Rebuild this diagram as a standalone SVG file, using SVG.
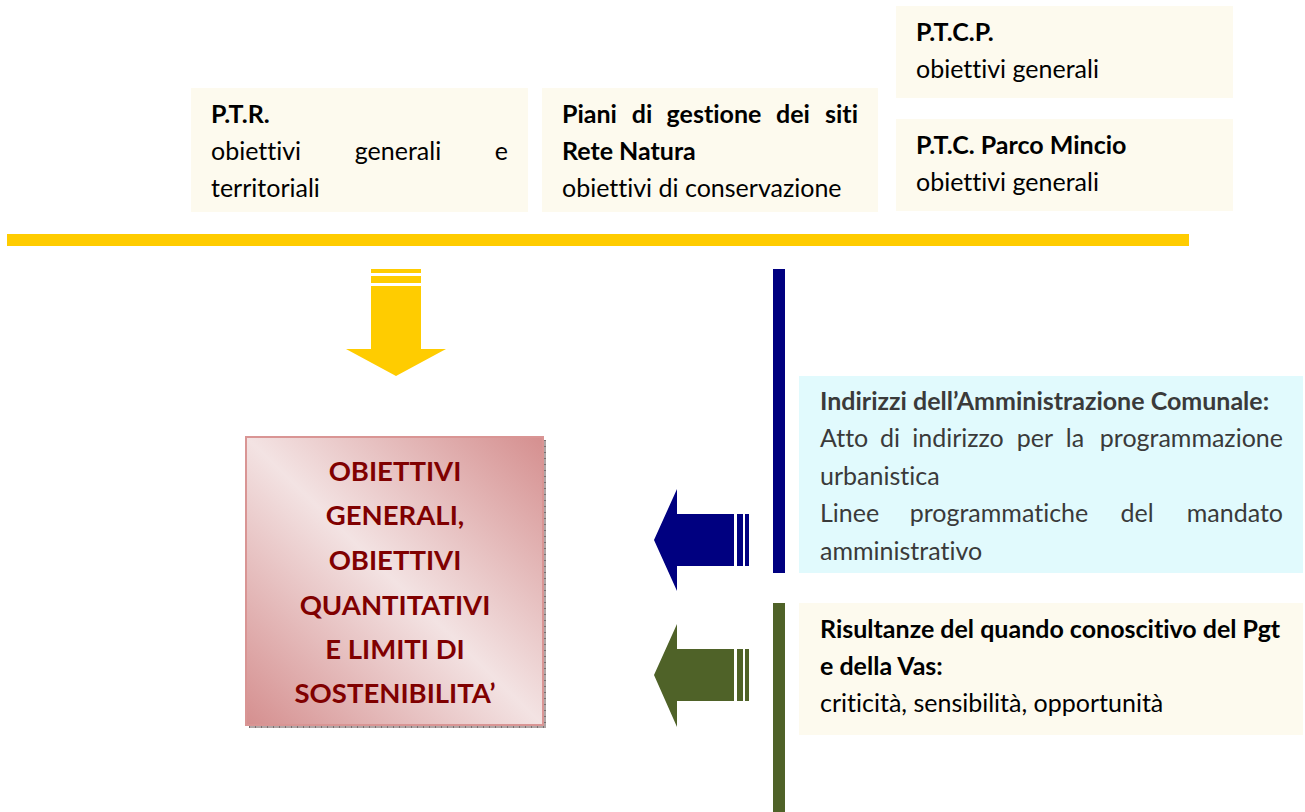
<svg xmlns="http://www.w3.org/2000/svg" width="1305" height="812" viewBox="0 0 1305 812">
  <defs>
    <style>
      .cream{fill:#FDFAEE}
      .cyan{fill:#E1FAFD}
      .t{font-family:Lato,"Liberation Sans",sans-serif;font-size:25px;fill:#000;font-variant-ligatures:none}
      .g{fill:#3A3A3A}
      .b{font-weight:bold}
      .m{text-anchor:middle}
      .e{text-anchor:end}
      .pk{font-family:Lato,"Liberation Sans",sans-serif;font-size:27.5px;font-weight:bold;fill:#800000;text-anchor:middle;font-variant-ligatures:none}
      .yellow{fill:#FFCC00}
      .blue{fill:#000080}
      .green{fill:#4F6228}
    </style>
    <linearGradient id="pinkGrad" x1="0" y1="1" x2="1" y2="0">
      <stop offset="0" stop-color="#D58F8F"/>
      <stop offset="0.5" stop-color="#F3E3E3"/>
      <stop offset="1" stop-color="#D58F8F"/>
    </linearGradient>
  </defs>

  <rect width="1305" height="812" fill="#FFFFFF"/>

  <g id="ptr">
    <rect class="cream" x="191" y="88" width="337" height="124"/>
    <text class="t b" x="211" y="123">P.T.R.</text>
    <text class="t" x="211" y="160">obiettivi</text>
    <text class="t m" x="398" y="160">generali</text>
    <text class="t e" x="508" y="160">e</text>
    <text class="t" x="211" y="197">territoriali</text>
  </g>

  <g id="piani">
    <rect class="cream" x="542" y="88" width="336" height="124"/>
    <text class="t b" x="562" y="123">Piani</text>
    <text class="t b m" x="642" y="123">di</text>
    <text class="t b m" x="714" y="123">gestione</text>
    <text class="t b m" x="793" y="123">dei</text>
    <text class="t b e" x="858" y="123">siti</text>
    <text class="t b" x="562" y="160">Rete Natura</text>
    <text class="t" x="562" y="197">obiettivi di conservazione</text>
  </g>

  <g id="ptcp">
    <rect class="cream" x="896" y="6" width="337" height="92"/>
    <text class="t b" x="916" y="41">P.T.C.P.</text>
    <text class="t" x="916" y="78">obiettivi generali</text>
  </g>

  <g id="ptc-mincio">
    <rect class="cream" x="896" y="119" width="337" height="92"/>
    <text class="t b" x="916" y="154">P.T.C. Parco Mincio</text>
    <text class="t" x="916" y="191">obiettivi generali</text>
  </g>

  <g id="yellow-bar">
    <rect class="yellow" x="7" y="234" width="1182" height="12"/>
  </g>

  <g id="connectors">
    <g id="yellow-arrow" class="yellow">
      <rect x="371" y="269" width="50" height="4"/>
      <rect x="371" y="276" width="50" height="7"/>
      <polygon points="371,286 421,286 421,349 446,349 396,376 346,349 371,349"/>
    </g>
    <g id="blue-arrow" class="blue">
      <polygon points="654,540 677,489 677,514 734,514 734,566 677,566 677,591"/>
      <rect x="737" y="514" width="6" height="52"/>
      <rect x="745" y="514" width="4" height="52"/>
    </g>
    <g id="green-arrow" class="green">
      <polygon points="654,675 677,624 677,649 734,649 734,701 677,701 677,727"/>
      <rect x="737" y="649" width="6" height="52"/>
      <rect x="745" y="649" width="4" height="52"/>
    </g>
    <rect id="blue-bar" class="blue" x="773" y="269" width="12" height="304"/>
    <rect id="green-bar" class="green" x="773" y="603" width="12" height="209"/>
  </g>

  <g id="obiettivi">
    <rect x="249" y="440" width="297" height="288" fill="#B0A6A6"/>
    <line x1="249" y1="726.5" x2="546" y2="726.5" stroke="#7A7070" stroke-width="3" stroke-dasharray="1 5"/>
    <line x1="544.5" y1="440" x2="544.5" y2="728" stroke="#7A7070" stroke-width="3" stroke-dasharray="1 5"/>
    <rect x="246" y="437" width="297" height="288" fill="url(#pinkGrad)" stroke="#D99594" stroke-width="2"/>
    <text class="pk" x="395" y="481">OBIETTIVI</text>
    <text class="pk" x="395" y="525">GENERALI,</text>
    <text class="pk" x="395" y="570">OBIETTIVI</text>
    <text class="pk" x="395" y="615">QUANTITATIVI</text>
    <text class="pk" x="395" y="659">E LIMITI DI</text>
    <text class="pk" x="395" y="703">SOSTENIBILITA’</text>
  </g>

  <g id="indirizzi">
    <rect class="cyan" x="799" y="376" width="504" height="197"/>
    <text class="t g b" x="820" y="410">Indirizzi dell’Amministrazione Comunale:</text>
    <text class="t g" x="820" y="447">Atto</text>
    <text class="t g m" x="890" y="447">di</text>
    <text class="t g m" x="958" y="447">indirizzo</text>
    <text class="t g m" x="1035" y="447">per</text>
    <text class="t g m" x="1075" y="447">la</text>
    <text class="t g e" x="1283" y="447">programmazione</text>
    <text class="t g" x="820" y="485">urbanistica</text>
    <text class="t g" x="820" y="522">Linee</text>
    <text class="t g m" x="999" y="522">programmatiche</text>
    <text class="t g m" x="1137" y="522">del</text>
    <text class="t g e" x="1283" y="522">mandato</text>
    <text class="t g" x="820" y="560">amministrativo</text>
  </g>

  <g id="risultanze">
    <rect class="cream" x="799" y="603" width="504" height="132"/>
    <text class="t b" x="820" y="638">Risultanze del quando conoscitivo del Pgt</text>
    <text class="t b" x="820" y="675">e della Vas:</text>
    <text class="t" x="820" y="712">criticità, sensibilità, opportunità</text>
  </g>
</svg>
